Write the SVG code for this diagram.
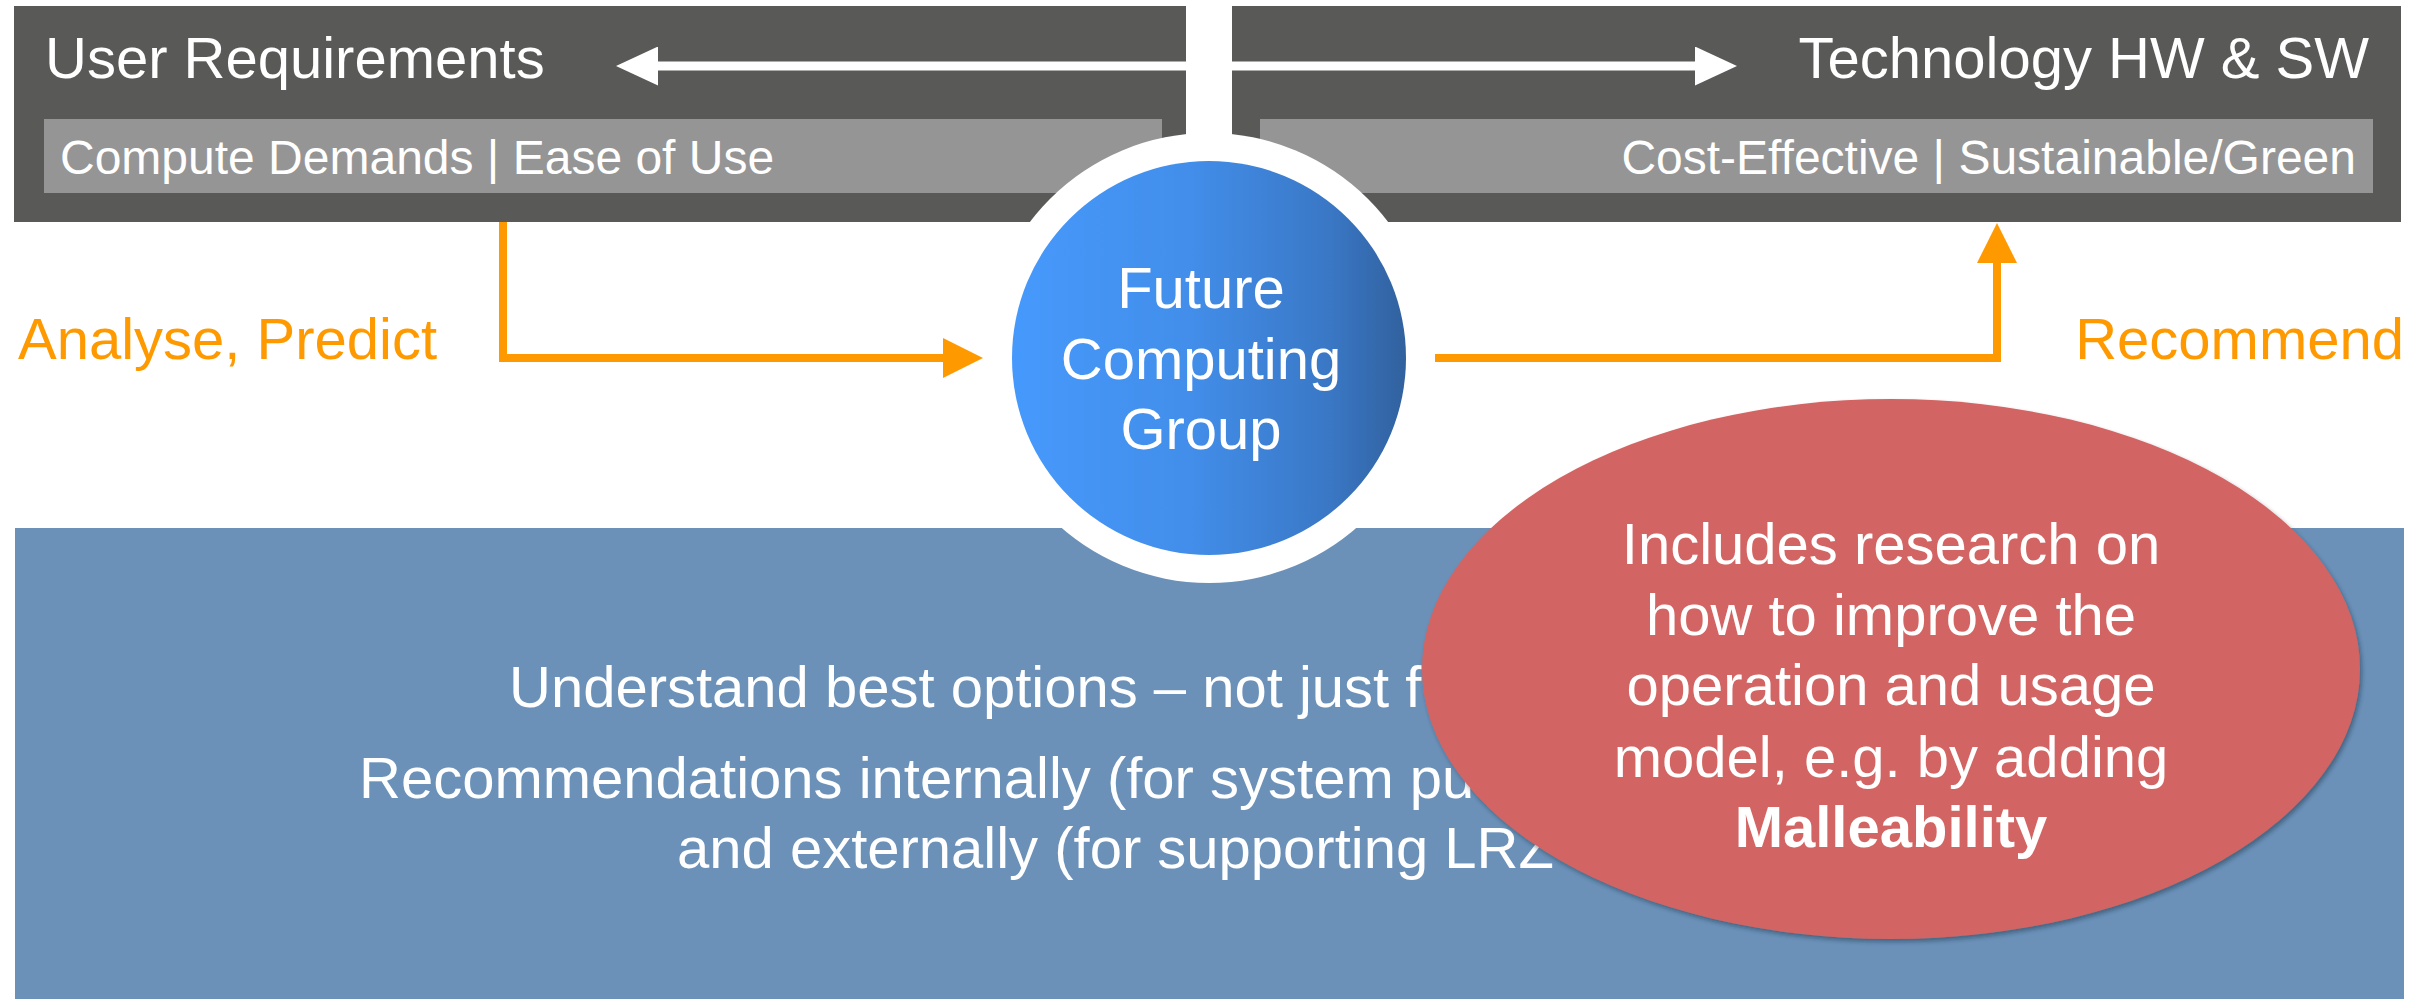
<svg xmlns="http://www.w3.org/2000/svg" width="2423" height="999" viewBox="0 0 2423 999">
  <defs>
    <linearGradient id="fcg-fill" x1="0" y1="0" x2="1" y2="0">
      <stop offset="0" stop-color="#4699FC"/>
      <stop offset="0.45" stop-color="#428EEA"/>
      <stop offset="0.8" stop-color="#3A78C6"/>
      <stop offset="1" stop-color="#31619E"/>
    </linearGradient>
    <filter id="soft-shadow" x="-10%" y="-10%" width="120%" height="120%">
      <feDropShadow dx="2" dy="3" stdDeviation="2" flood-color="#1E2A3A" flood-opacity="0.45"/>
    </filter>
    <marker id="head-orange" markerUnits="userSpaceOnUse" viewBox="0 0 40 40" markerWidth="40" markerHeight="40" refX="0" refY="20" orient="auto">
      <path d="M0,0 L40,20 L0,40 z" fill="#FF9900"/>
    </marker>
    <marker id="head-white" markerUnits="userSpaceOnUse" viewBox="0 0 42 39" markerWidth="42" markerHeight="39" refX="0" refY="19.5" orient="auto-start-reverse">
      <path d="M0,0 L42,19.5 L0,39 z" fill="#FFFFFF"/>
    </marker>
  </defs>
  <style>
    text { font-family: "Liberation Sans", Arial, sans-serif; fill: #FFFFFF; }
    .big { font-size: 58px; }
    .small { font-size: 48px; }
    .orange { fill: #FF9900; }
    .bold { font-weight: bold; }
    .dark { fill: #595957; }
    .bar { fill: #959595; }
    .conn-o { fill: none; stroke: #FF9900; stroke-width: 8; stroke-linejoin: miter; }
    .conn-w { fill: none; stroke: #FFFFFF; stroke-width: 9; }
  </style>

  <rect width="2423" height="999" fill="#FFFFFF"/>

  <!-- bottom panel -->
  <g id="goals-panel">
    <rect x="15" y="528" width="2389" height="471" fill="#6B91B9"/>
    <text class="big" x="509" y="707">Understand best options – not just f</text>
    <text class="big" x="359" y="798">Recommendations internally (for system pu</text>
    <text class="big" x="677" y="868">and externally (for supporting LRZ</text>
  </g>

  <!-- top-left box -->
  <g id="user-requirements">
    <rect class="dark" x="14" y="6" width="1172" height="216"/>
    <rect class="bar" x="44" y="119" width="1118" height="74"/>
    <text class="big" x="45" y="78">User Requirements</text>
    <text class="small" x="60" y="174">Compute Demands | Ease of Use</text>
  </g>

  <!-- top-right box -->
  <g id="technology">
    <rect class="dark" x="1232" y="6" width="1169" height="216"/>
    <rect class="bar" x="1260" y="119" width="1113" height="74"/>
    <text class="big" x="2369" y="78" text-anchor="end">Technology HW &amp; SW</text>
    <text class="small" x="2356" y="174" text-anchor="end">Cost-Effective | Sustainable/Green</text>
  </g>

  <!-- connectors -->
  <g id="connectors">
    <path class="conn-w" d="M658,66 H1695" marker-start="url(#head-white)" marker-end="url(#head-white)"/>
    <path class="conn-o" d="M503,222 V358 H943" marker-end="url(#head-orange)"/>
    <path class="conn-o" d="M1435,358 H1997 V263" marker-end="url(#head-orange)"/>
    <text class="big orange" x="18" y="359">Analyse, Predict</text>
    <text class="big orange" x="2404" y="359" text-anchor="end">Recommend</text>
  </g>

  <!-- central node -->
  <g id="future-computing-group">
    <circle cx="1209" cy="358" r="225" fill="#FFFFFF"/>
    <circle cx="1209" cy="358" r="197" fill="url(#fcg-fill)"/>
    <text class="big" x="1201" y="308" text-anchor="middle">Future</text>
    <text class="big" x="1201" y="379" text-anchor="middle">Computing</text>
    <text class="big" x="1201" y="449" text-anchor="middle">Group</text>
  </g>

  <!-- research note -->
  <g id="malleability-note">
    <ellipse cx="1891" cy="669" rx="469" ry="270" fill="#D26563" filter="url(#soft-shadow)"/>
    <text class="big" x="1891" y="564" text-anchor="middle">Includes research on</text>
    <text class="big" x="1891" y="635" text-anchor="middle">how to improve the</text>
    <text class="big" x="1891" y="705" text-anchor="middle">operation and usage</text>
    <text class="big" x="1891" y="777" text-anchor="middle">model, e.g. by adding</text>
    <text class="big bold" x="1891" y="847" text-anchor="middle">Malleability</text>
  </g>
</svg>
